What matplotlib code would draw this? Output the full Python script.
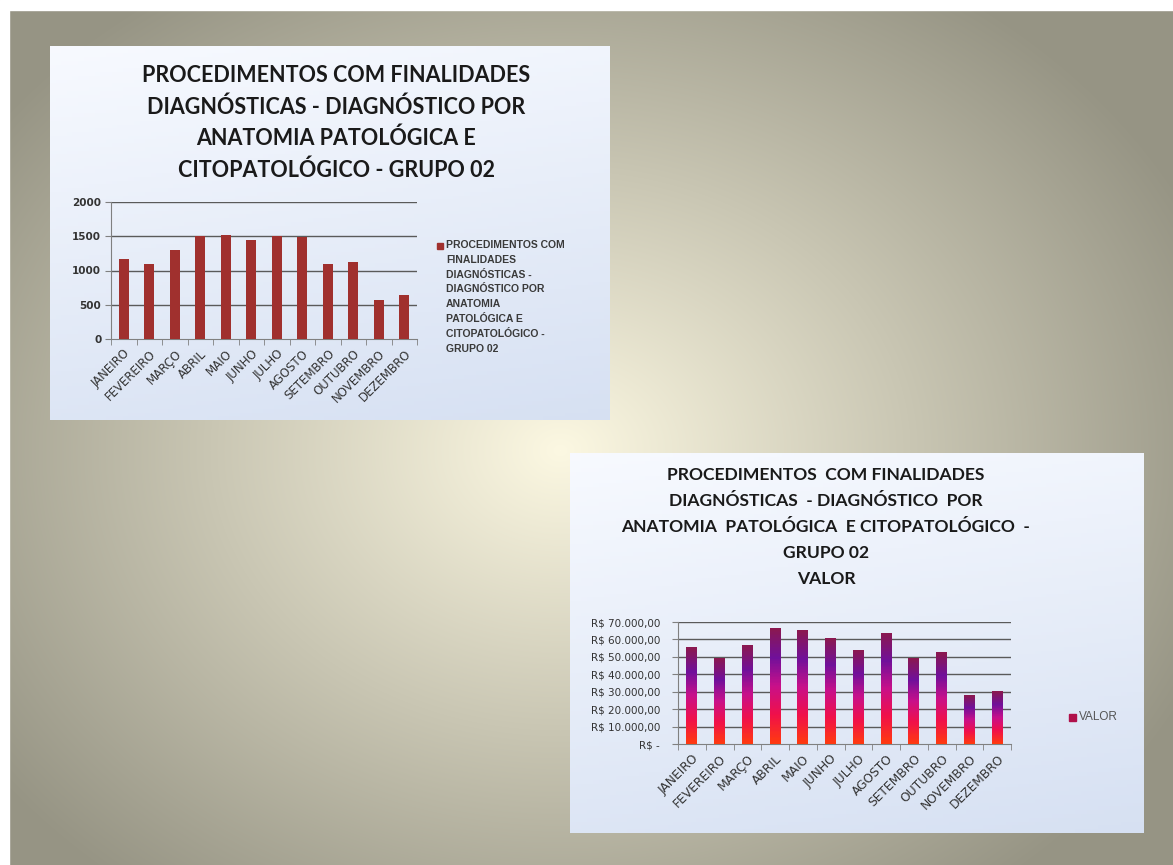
import numpy as np
import matplotlib.pyplot as plt
from matplotlib.colors import LinearSegmentedColormap

W, H = 1173, 865

meses = ["JANEIRO", "FEVEREIRO", "MARÇO", "ABRIL", "MAIO", "JUNHO",
         "JULHO", "AGOSTO", "SETEMBRO", "OUTUBRO", "NOVEMBRO", "DEZEMBRO"]
quantidade = [1170, 1100, 1300, 1500, 1520, 1450, 1500, 1490, 1100, 1130, 570, 640]
valor = [55500, 49400, 56800, 66500, 65200, 60800, 54200, 63900, 49400, 52600, 28000, 30300]

ticks_qtd = [0, 500, 1000, 1500, 2000]
ticks_valor = [0, 10000, 20000, 30000, 40000, 50000, 60000, 70000]
rotulos_valor = ["R$ -", "R$ 10.000,00", "R$ 20.000,00", "R$ 30.000,00",
                 "R$ 40.000,00", "R$ 50.000,00", "R$ 60.000,00", "R$ 70.000,00"]

titulo_qtd = ("PROCEDIMENTOS COM FINALIDADES\nDIAGNÓSTICAS - DIAGNÓSTICO POR\n"
              "ANATOMIA PATOLÓGICA E\nCITOPATOLÓGICO - GRUPO 02")
legenda_qtd = ("PROCEDIMENTOS COM\nFINALIDADES\nDIAGNÓSTICAS -\nDIAGNÓSTICO POR\n"
               "ANATOMIA\nPATOLÓGICA E\nCITOPATOLÓGICO -\nGRUPO 02")
titulo_valor = ("PROCEDIMENTOS  COM FINALIDADES\nDIAGNÓSTICAS  - DIAGNÓSTICO  POR\n"
                "ANATOMIA  PATOLÓGICA  E CITOPATOLÓGICO  -\nGRUPO 02\nVALOR")
legenda_valor = "VALOR"

FONT_TITULO = ["Lato", "DejaVu Sans"]
FONT_PEQ = ["Liberation Sans Narrow", "DejaVu Sans"]
FONT_LEG = ["Liberation Sans", "DejaVu Sans"]
GRID = "#5a5a5a"
COR_QTD = "#a0302e"
COR_VALOR = "#b0104a"


def rect(x0, y0, x1, y1):
    """Pixel box (top-left origin) -> figure fraction rect."""
    return [x0 / W, 1 - y1 / H, (x1 - x0) / W, (y1 - y0) / H]


def painel(fig, box):
    ax = fig.add_axes(rect(*box))
    yy = np.linspace(0, 1, 100)[:, None]
    xx = np.linspace(0, 1, 100)[None, :]
    top = np.array([0.97, 0.98, 1.0])
    bot = np.array([0.84, 0.88, 0.95])
    t = np.clip(yy * 0.8 + xx * 0.2, 0, 1)[..., None]
    ax.imshow(top * (1 - t) + bot * t, extent=[0, 1, 0, 1],
              aspect="auto", origin="upper")
    ax.set_axis_off()
    return ax


def eixo_categorias(ax, ymax, ticks, rotulos, ysize, yweight, xsize):
    ax.set_facecolor("none")
    ax.set_xlim(-0.5, len(meses) - 0.5)
    ax.set_ylim(0, ymax)
    ax.set_yticks(ticks)
    ax.set_yticklabels(rotulos, fontsize=ysize, family=FONT_PEQ,
                       fontweight=yweight, color="#333333")
    for v in ticks[1:]:
        ax.axhline(v, color=GRID, lw=1.0, zorder=1)
    ax.set_xticks(np.arange(len(meses)))
    ax.set_xticklabels(meses, rotation=45, ha="right",
                       rotation_mode="anchor", fontsize=xsize,
                       family=FONT_PEQ, color="#333333")
    ax.tick_params(axis="x", length=0, pad=6)
    ax.set_xticks(np.arange(-0.5, len(meses)), minor=True)
    ax.tick_params(axis="x", which="minor", length=4, color="#808080")
    ax.tick_params(axis="y", length=4, color="#808080", pad=3)
    for s in ["top", "right"]:
        ax.spines[s].set_visible(False)
    ax.spines["left"].set_color("#808080")
    ax.spines["bottom"].set_color("#808080")


fig = plt.figure(figsize=(W / 100, H / 100), dpi=100)

# slide background: radial gradient
bg = fig.add_axes([0, 0, 1, 1])
gy, gx = np.mgrid[0:H, 0:W]
r = np.sqrt(((gx - 560) / 700.0) ** 2 + ((gy - 450) / 560.0) ** 2)
r = np.clip(r, 0, 1)[..., None]
centro = np.array([252, 248, 226]) / 255
borda = np.array([150, 148, 132]) / 255
bg.imshow(centro * (1 - r) + borda * r, extent=[0, W, H, 0], aspect="auto")
bg.add_patch(plt.Rectangle((0, 0), W, 10, color="white"))
bg.add_patch(plt.Rectangle((0, 0), 9, H, color="white"))
bg.set_xlim(0, W)
bg.set_ylim(H, 0)
bg.set_axis_off()

x = np.arange(len(meses))

# ---------------- painel 1: quantidade ----------------
painel(fig, (50, 46, 610, 420))
fig.text(336 / W, 1 - 123 / H, titulo_qtd, ha="center", va="center",
         fontsize=15.5, fontweight="bold", family=FONT_TITULO,
         color="#1a1a1a", linespacing=1.58)

ax1 = fig.add_axes(rect(111, 202, 417, 339))
ax1.bar(x, quantidade, width=0.4, color=COR_QTD, zorder=3)
eixo_categorias(ax1, 2000, ticks_qtd, [str(v) for v in ticks_qtd],
                7.5, "bold", 8.5)

# legend drawn by hand so the marker sits on the first text line
fig.patches.append(plt.Rectangle((437 / W, 1 - 249 / H), 6 / W, 6 / H,
                                 transform=fig.transFigure,
                                 color=COR_QTD))
fig.text(446 / W, 1 - 240 / H, legenda_qtd, ha="left", va="top",
         fontsize=7.5, fontweight="bold", family=FONT_LEG,
         color="#3a3a3a", linespacing=1.6)

# ---------------- painel 2: valor ----------------
painel(fig, (570, 453, 1144, 833))
fig.text(826 / W, 1 - 527 / H, titulo_valor, ha="center", va="center",
         fontsize=12.6, fontweight="bold", family=FONT_TITULO,
         color="#1a1a1a", linespacing=1.78)

ax2 = fig.add_axes(rect(678, 622, 1011, 744))
eixo_categorias(ax2, 70000, ticks_valor, rotulos_valor, 7.5, "normal", 8.8)
ax2.tick_params(axis="y", pad=9)

# each bar filled bottom->top with the gradient, as thin stacked slices
grad = LinearSegmentedColormap.from_list(
    "valor", ["#ff3a10", "#f0104a", "#c8108a", "#70109a", "#8a1850"])
n_fatias = 80
valor_arr = np.asarray(valor, dtype=float)
for k in range(n_fatias):
    passo = valor_arr / n_fatias
    altura = passo * (1.6 if k < n_fatias - 1 else 1.0)
    ax2.bar(x, altura, bottom=passo * k, width=0.4,
            color=grad(k / (n_fatias - 1)), linewidth=0, zorder=3)
ax2.set_xlim(-0.5, len(meses) - 0.5)
ax2.set_ylim(0, 70000)

fig.patches.append(plt.Rectangle((1069 / W, 1 - 721 / H), 7 / W, 7 / H,
                                 transform=fig.transFigure,
                                 color=COR_VALOR))
fig.text(1079 / W, 1 - 717 / H, legenda_valor, ha="left", va="center",
         fontsize=8.5, family=FONT_LEG, color="#555555")

fig.savefig("out.png", dpi=100)
